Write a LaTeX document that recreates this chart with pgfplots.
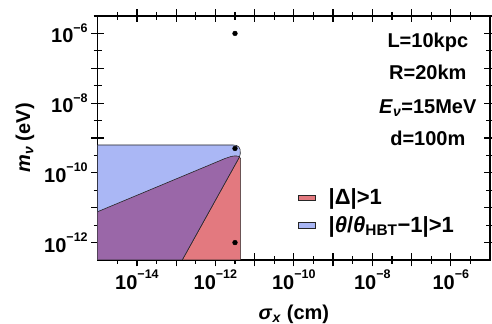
\documentclass[border=0pt]{standalone}
\usepackage{fontspec}
\setmainfont{Liberation Sans}
\usepackage{pgfplots}
\pgfplotsset{compat=1.18}
\definecolor{cblue}{RGB}{170,183,245}
\definecolor{cred}{RGB}{227,121,127}
\definecolor{cpurp}{RGB}{154,103,168}
\newcommand{\tl}[1]{10\raisebox{10.5pt}{\fontsize{12.5}{13}\selectfont −#1}}
\newcommand{\bigf}{\fontsize{20}{24}\selectfont\bfseries}
\begin{document}
\begin{tikzpicture}
\begin{axis}[
 width=392.3pt, height=244pt, scale only axis,
 xmin=-15, xmax=-5, ymin=-12.5, ymax=-5.5,
 axis line style={line width=1.2pt},
 tick style={line width=1.2pt, black},
 tick align=center,
 major tick length=13pt, minor tick length=8pt,
 xtick={-14,-13,-12,-11,-10,-9,-8,-7,-6},
 xticklabels={\tl{14},{},\tl{12},{},\tl{10},{},\tl{8},{},\tl{6}},
 minor xtick={-14.5,-13.5,-12.5,-11.5,-10.5,-9.5,-8.5,-7.5,-6.5,-5.5},
 ytick={-12,-11,-10,-9,-8,-7,-6},
 yticklabels={\tl{12},{},\tl{10},{},\tl{8},{},\tl{6}},
 minor ytick={-11.5,-10.5,-9.5,-8.5,-7.5,-6.5,-5.5},
 ticklabel style={font=\bigf},
 xlabel={\textit{σ}\textsubscript{\textit{x}} (cm)},
 ylabel={\textit{m}\textsubscript{\textit{ν}} (eV)},
 xlabel style={font=\bigf, at={(axis description cs:0.5,-0.222)}, anchor=center},
 ylabel style={font=\bigf, at={(axis description cs:-0.1853,0.5)}, anchor=center, rotate=0},
 legend style={at={(axis cs:-9.9,-10.4)}, anchor=north west, draw=none, fill=none, font=\fontsize{22}{26}\selectfont\bfseries, row sep=6pt, inner sep=0pt,
   /tikz/every odd column/.append style={column sep=11pt}},
 legend cell align=left,
 legend image code/.code={\draw[#1,draw=black!45,line width=0.5pt] (0pt,-7.5pt) rectangle (16pt,7.5pt);},
]
\addplot[fill=cred, draw=black!85, line width=0.6pt, area legend] coordinates {
(-15,-12.5) (-15,-11.114) (-13,-10.174) (-12,-9.704) (-11.757,-9.589) (-11.6,-9.53) (-11.502,-9.514) (-11.43,-9.52) (-11.385,-9.54) (-11.357,-9.6) (-11.357,-12.5)} -- cycle;
\addlegendentry{|Δ|>1}
\addplot[fill=cblue, draw=black!85, line width=0.6pt, area legend] coordinates {
(-15,-12.5) (-15,-9.2) (-11.55,-9.2) (-11.46,-9.215) (-11.40,-9.26) (-11.37,-9.33) (-11.365,-9.45) (-11.385,-9.54) (-12.845,-12.5)} -- cycle;
\addlegendentry{|\textit{θ}/\textit{θ}\textsubscript{HBT}−1|>1}
\addplot[fill=cpurp, draw=black!85, line width=0.6pt, forget plot] coordinates {
(-15,-12.5) (-15,-11.114) (-13,-10.174) (-12,-9.704) (-11.757,-9.589) (-11.6,-9.53) (-11.502,-9.514) (-11.43,-9.52) (-11.385,-9.54) (-12.845,-12.5)} -- cycle;
\addplot[only marks, mark=*, mark size=2.4pt, black, forget plot] coordinates {(-11.5,-6) (-11.5,-9.3) (-11.5,-12)};
\node[anchor=base, font=\bigf] at (axis cs:-6.585,-6.4) {L=10kpc};
\node[anchor=base, font=\bigf] at (axis cs:-6.585,-7.323) {R=20km};
\node[anchor=base, font=\bigf] at (axis cs:-6.585,-8.303) {\textit{E}\textsubscript{\textit{ν}}=15MeV};
\node[anchor=base, font=\bigf] at (axis cs:-6.585,-9.209) {d=100m};
\coordinate (sw) at (rel axis cs:0,0);
\coordinate (ne) at (rel axis cs:1,1);
\end{axis}
\pgfresetboundingbox
\path ([xshift=-97.7pt,yshift=-64pt]sw) rectangle ([xshift=2pt,yshift=16pt]ne);
\end{tikzpicture}
\end{document}
